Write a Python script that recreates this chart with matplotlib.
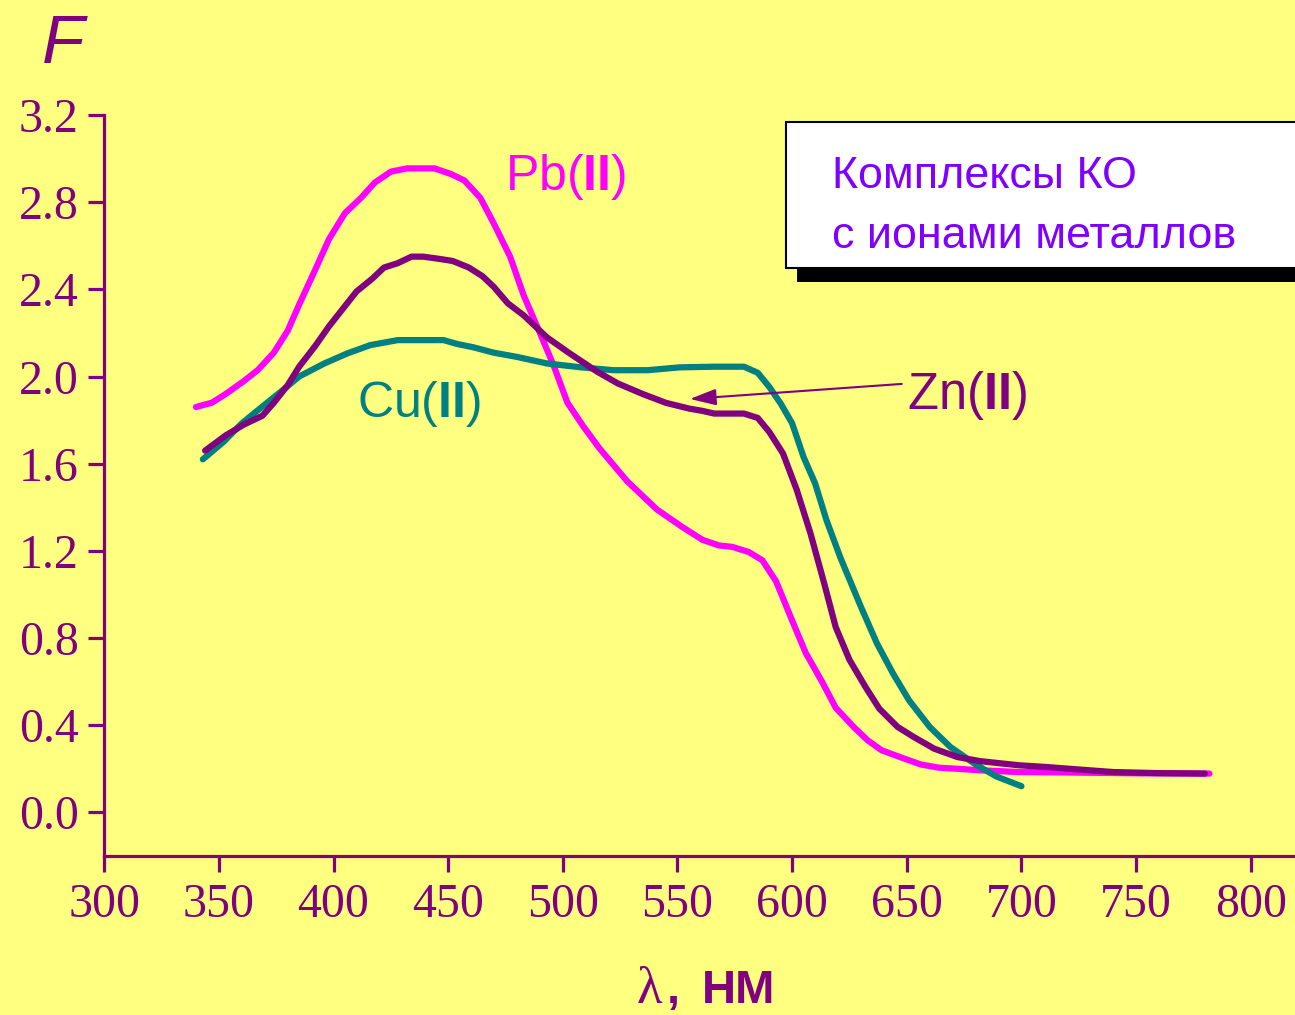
import matplotlib
matplotlib.use('Agg')
from matplotlib import pyplot as plt
from matplotlib.patches import Rectangle

plt.rcParams['mathtext.fontset'] = 'custom'
plt.rcParams['mathtext.rm'] = 'Liberation Sans'
plt.rcParams['mathtext.bf'] = 'Liberation Sans:bold'

# fluorescence spectra, wavelength (nm) vs F
pb_x = [340, 347, 353, 361, 367, 374, 380, 385, 392, 398, 405, 412, 418, 425, 432, 444, 451, 457, 464, 470,
        477, 483, 490, 496, 502, 509, 516, 528, 541, 552, 561, 568, 574, 581, 587, 593, 600, 606, 613, 619,
        627, 633, 639, 647, 656, 664, 672, 682, 699, 720, 752, 782]
pb_y = [1.86, 1.88, 1.92, 1.98, 2.03, 2.11, 2.21, 2.33, 2.49, 2.63, 2.75, 2.82, 2.89, 2.94, 2.955, 2.955, 2.93, 2.90, 2.82, 2.70,
        2.55, 2.37, 2.20, 2.05, 1.88, 1.77, 1.67, 1.52, 1.39, 1.31, 1.25, 1.225, 1.218, 1.195, 1.157, 1.06, 0.88, 0.73, 0.60, 0.48,
        0.39, 0.33, 0.285, 0.254, 0.22, 0.205, 0.20, 0.193, 0.185, 0.183, 0.179, 0.178]

zn_x = [344, 353, 361, 369, 374, 380, 385, 392, 398, 404, 410, 417, 422, 428, 434, 439, 446, 452, 459, 465,
        470, 476, 483, 493, 503, 515, 524, 535, 545, 555, 561, 566, 579, 585, 590, 596, 602, 608, 614, 619,
        625, 632, 638, 646, 653, 662, 672, 682, 699, 711, 726, 740, 760, 780]
zn_y = [1.66, 1.73, 1.78, 1.82, 1.88, 1.96, 2.045, 2.14, 2.23, 2.31, 2.39, 2.45, 2.50, 2.52, 2.55, 2.55, 2.54, 2.53, 2.50, 2.46,
        2.41, 2.336, 2.28, 2.18, 2.106, 2.022, 1.968, 1.919, 1.879, 1.853, 1.842, 1.83, 1.83, 1.81, 1.746, 1.647, 1.48, 1.28, 1.05, 0.85,
        0.70, 0.575, 0.476, 0.392, 0.346, 0.292, 0.254, 0.235, 0.216, 0.208, 0.196, 0.185, 0.18, 0.178]

cu_x = [343, 352, 360, 368, 377, 385, 396, 406, 416, 428, 448, 454, 461, 470, 480, 493, 508, 522, 537, 551,
        566, 579, 585, 590, 595, 600, 605, 610, 615, 621, 630, 637, 644, 651, 660, 669, 680, 689, 700]
cu_y = [1.62, 1.70, 1.785, 1.854, 1.93, 2.0, 2.06, 2.106, 2.144, 2.167, 2.167, 2.149, 2.134, 2.109, 2.09, 2.06, 2.042, 2.029, 2.029, 2.042,
        2.045, 2.045, 2.017, 1.953, 1.876, 1.785, 1.63, 1.51, 1.34, 1.17, 0.943, 0.775, 0.637, 0.514, 0.392, 0.30, 0.22, 0.165, 0.12]

x_ticks = [300, 350, 400, 450, 500, 550, 600, 650, 700, 750, 800]
y_ticks = [0.0, 0.4, 0.8, 1.2, 1.6, 2.0, 2.4, 2.8, 3.2]

bg = '#FFFF80'
purple = '#800080'
magenta = '#FF00FF'
teal = '#008080'

fig = plt.figure(figsize=(12.95, 10.15), dpi=100, facecolor=bg)
ax = fig.add_axes([0.0805, 0.1567, 0.9195, 0.730])
ax.set_facecolor(bg)

lw = 4.5
ax.plot(pb_x, pb_y, color=magenta, lw=lw, solid_capstyle='round', solid_joinstyle='round')
ax.plot(cu_x, cu_y, color=teal, lw=lw, solid_capstyle='round', solid_joinstyle='round')
ax.plot(zn_x, zn_y, color=purple, lw=lw, solid_capstyle='round', solid_joinstyle='round')

ax.set_xlim(300, 819.3)
ax.set_ylim(-0.2, 3.2)
ax.set_xticks(x_ticks)
ax.set_xticklabels([str(t) for t in x_ticks])
ax.set_yticks(y_ticks)
ax.set_yticklabels(['%.1f' % t for t in y_ticks])

for s in ['top', 'right']:
    ax.spines[s].set_visible(False)
for s in ['left', 'bottom']:
    ax.spines[s].set_color(purple)
    ax.spines[s].set_linewidth(2.3)
ax.tick_params(axis='both', colors=purple, length=11.5, width=2.3, direction='out')
ax.tick_params(axis='y', pad=7)
ax.tick_params(axis='x', pad=8)
for lab in ax.get_xticklabels() + ax.get_yticklabels():
    lab.set_fontfamily('Liberation Serif')
    lab.set_fontsize(34.5)
    lab.set_color(purple)

# curve labels
ax.text(474.8, 2.856, r'Pb($\mathbf{II}$)', color=magenta, fontsize=36, family='Liberation Sans', va='baseline')
ax.text(410.1, 1.815, r'Cu($\mathbf{II}$)', color=teal, fontsize=36, family='Liberation Sans', va='baseline')
ax.text(649.9, 1.853, r'Zn($\mathbf{II}$)', color=purple, fontsize=36.5, family='Liberation Sans', va='baseline')
ax.annotate('', xy=(555.4, 1.897), xytext=(647.8, 1.966),
            arrowprops=dict(arrowstyle='-|>,head_length=0.8,head_width=0.25', color=purple,
                            lw=1.5, mutation_scale=20, shrinkA=0, shrinkB=0))

# axis titles
fig.text(0.0324, 0.938, 'F', fontsize=50, style='italic', family='Liberation Sans', color=purple, va='baseline')
fig.text(636.7 / 1295, 1 - 1003 / 1015, 'λ', fontsize=38, family='Liberation Serif', color=purple, va='baseline')
fig.text(667 / 1295, 1 - 1003 / 1015, ',', fontsize=34, family='Liberation Sans', weight='bold',
         color=purple, va='baseline')
fig.text(702 / 1295, 1 - 1003 / 1015, 'НМ', fontsize=34, family='Liberation Sans', weight='bold',
         color=purple, va='baseline')

# caption box with shadow
fig.patches.append(Rectangle((797 / 1295, 1 - 282 / 1015), 0.5, 146 / 1015, transform=fig.transFigure,
                             facecolor='black', edgecolor='none', zorder=5))
fig.patches.append(Rectangle((786 / 1295, 1 - 268 / 1015), 0.5, 146 / 1015, transform=fig.transFigure,
                             facecolor='white', edgecolor='black', lw=1.5, zorder=6))
fig.text(831.7 / 1295, 1 - 188.3 / 1015, 'Комплексы КО', fontsize=32.3, family='Liberation Sans',
         color='#8000FF', va='baseline', zorder=7)
fig.text(831.7 / 1295, 1 - 248.3 / 1015, 'с ионами металлов', fontsize=32.3, family='Liberation Sans',
         color='#8000FF', va='baseline', zorder=7)

fig.savefig('out.png', dpi=100, facecolor=bg)
